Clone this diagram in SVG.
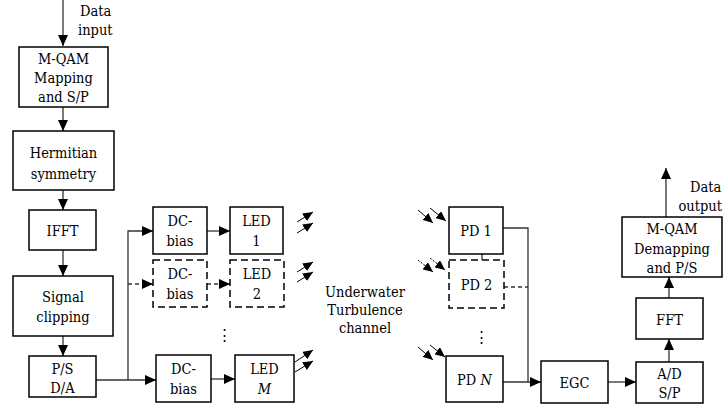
<svg xmlns="http://www.w3.org/2000/svg" width="724" height="410" viewBox="0 0 724 410">
<style>
  .box{fill:#fff;stroke:#000;stroke-width:1.5}
  .dbox{fill:#fff;stroke:#000;stroke-width:1.5;stroke-dasharray:7,4}
  .t{text-anchor:middle}
  .c{fill:none;stroke:#333;stroke-width:1.3}
  .cd{fill:none;stroke:#333;stroke-width:1.3;stroke-dasharray:4,3}
  .ray{fill:none;stroke:#000;stroke-width:1}
  .rayd{fill:none;stroke:#000;stroke-width:1;stroke-dasharray:2,1.5}
</style>
<defs>
  <marker id="ah" markerUnits="userSpaceOnUse" markerWidth="12" markerHeight="10" refX="11" refY="5" orient="auto">
    <path d="M0,0 L11,5 L0,10 z" fill="#000"/>
  </marker>
  <marker id="sh" markerUnits="userSpaceOnUse" markerWidth="10" markerHeight="9" refX="10" refY="4.5" orient="auto">
    <path d="M0,0 L10,4.5 L0,9 z" fill="#000"/>
  </marker>
</defs>
<rect width="724" height="410" fill="#fff"/>

<g id="connectors">
  <path class="c" d="M63,0 V46" marker-end="url(#ah)"/>
  <path class="c" d="M63,107 V131" marker-end="url(#ah)"/>
  <path class="c" d="M63,190 V210" marker-end="url(#ah)"/>
  <path class="c" d="M63,250 V276" marker-end="url(#ah)"/>
  <path class="c" d="M63,336 V356" marker-end="url(#ah)"/>
  <path class="c" d="M96,380 H156" marker-end="url(#ah)"/>
  <path class="c" d="M128,380 V231 H153" marker-end="url(#ah)"/>
  <path class="cd" d="M128,284 H153" marker-end="url(#ah)"/>
  <path class="c" d="M207,231 H230" marker-end="url(#ah)"/>
  <path class="cd" d="M207,284 H230" marker-end="url(#ah)"/>
  <path class="c" d="M211,379 H235" marker-end="url(#ah)"/>
  <path class="c" d="M503,228 H528 V382"/>
  <path class="cd" d="M504,287 H528"/>
  <path class="c" d="M482,254 V260"/>
  <path class="c" d="M503,382 H541" marker-end="url(#ah)"/>
  <path class="c" d="M608,382 H636" marker-end="url(#ah)"/>
  <path class="c" d="M669,362 V339" marker-end="url(#ah)"/>
  <path class="c" d="M669,298 V277" marker-end="url(#ah)"/>
  <path class="c" d="M666,217 V168" marker-end="url(#ah)"/>
  <path class="ray" d="M297,222 L313,212" marker-end="url(#sh)"/>
  <path class="ray" d="M297,233 L313,223" marker-end="url(#sh)"/>
  <path class="ray" d="M297,272 L313,262" marker-end="url(#sh)"/>
  <path class="ray" d="M297,282 L313,272" marker-end="url(#sh)"/>
  <path class="ray" d="M295,362 L313,350" marker-end="url(#sh)"/>
  <path class="ray" d="M295,372 L313,361" marker-end="url(#sh)"/>
  <path class="ray" d="M418,210 L433,223" marker-end="url(#sh)"/>
  <path class="ray" d="M430,208 L446,221" marker-end="url(#sh)"/>
  <path class="rayd" d="M418,260 L433,272" marker-end="url(#sh)"/>
  <path class="rayd" d="M430,258 L445,270" marker-end="url(#sh)"/>
  <path class="ray" d="M418,347 L433,360" marker-end="url(#sh)"/>
  <path class="ray" d="M430,345 L445,357" marker-end="url(#sh)"/>
</g>

<g font-family="DejaVu Serif Condensed, DejaVu Serif, serif" font-size="14.5" fill="#000">
<g id="data-input">
  <text x="80" y="16">Data</text>
  <text x="78" y="35">input</text>
</g>
<g id="mqam-map">
  <rect class="box" x="19" y="47" width="89" height="60"/>
  <text class="t" x="63.5" y="64">M-QAM</text>
  <text class="t" x="63.5" y="83">Mapping</text>
  <text class="t" x="63.5" y="102">and S/P</text>
</g>
<g id="hermitian">
  <rect class="box" x="13" y="131" width="101" height="59"/>
  <text class="t" x="63.5" y="158">Hermitian</text>
  <text class="t" x="63.5" y="179">symmetry</text>
</g>
<g id="ifft">
  <rect class="box" x="29" y="210" width="67" height="40"/>
  <text class="t" x="62.5" y="236">IFFT</text>
</g>
<g id="clipping">
  <rect class="box" x="13" y="276" width="100" height="60"/>
  <text class="t" x="63" y="302">Signal</text>
  <text class="t" x="63" y="322">clipping</text>
</g>
<g id="ps-da">
  <rect class="box" x="29" y="356" width="67" height="41"/>
  <text class="t" x="62.5" y="374">P/S</text>
  <text class="t" x="62.5" y="393">D/A</text>
</g>
<g id="dcbias1">
  <rect class="box" x="153" y="207" width="54" height="47"/>
  <text class="t" x="180" y="226">DC-</text>
  <text class="t" x="180" y="246">bias</text>
</g>
<g id="dcbias2">
  <rect class="dbox" x="153" y="260" width="54" height="47"/>
  <text class="t" x="180" y="279">DC-</text>
  <text class="t" x="180" y="299">bias</text>
</g>
<g id="dcbiasM">
  <rect class="box" x="156" y="355" width="55" height="47"/>
  <text class="t" x="183.5" y="374">DC-</text>
  <text class="t" x="183.5" y="394">bias</text>
</g>
<g id="led1">
  <rect class="box" x="230" y="207" width="53" height="47"/>
  <text class="t" x="256.5" y="226">LED</text>
  <text class="t" x="256.5" y="246">1</text>
</g>
<g id="led2">
  <rect class="dbox" x="230" y="260" width="54" height="47"/>
  <text class="t" x="257" y="279">LED</text>
  <text class="t" x="257" y="299">2</text>
</g>
<g id="ledM">
  <rect class="box" x="235" y="355" width="59" height="47"/>
  <text class="t" x="264.5" y="374">LED</text>
  <text class="t" x="264.5" y="394" font-style="italic">M</text>
</g>
<g id="tx-dots">
  <text class="t" x="224" y="340">⋮</text>
</g>
<g id="channel">
  <text class="t" x="365" y="297">Underwater</text>
  <text class="t" x="365" y="315">Turbulence</text>
  <text class="t" x="365" y="333">channel</text>
</g>
<g id="pd1">
  <rect class="box" x="449" y="207" width="54" height="47"/>
  <text class="t" x="476" y="236">PD 1</text>
</g>
<g id="pd2">
  <rect class="dbox" x="449" y="260" width="55" height="48"/>
  <text class="t" x="476.5" y="290">PD 2</text>
</g>
<g id="rx-dots">
  <text class="t" x="481" y="342">⋮</text>
</g>
<g id="pdN">
  <rect class="box" x="446" y="356" width="57" height="46"/>
  <text class="t" x="474.5" y="385">PD <tspan font-style="italic">N</tspan></text>
</g>
<g id="egc">
  <rect class="box" x="541" y="361" width="67" height="42"/>
  <text class="t" x="574.5" y="388">EGC</text>
</g>
<g id="ad-sp">
  <rect class="box" x="636" y="362" width="67" height="41"/>
  <text class="t" x="669.5" y="379">A/D</text>
  <text class="t" x="669.5" y="398">S/P</text>
</g>
<g id="fft">
  <rect class="box" x="636" y="298" width="67" height="41"/>
  <text class="t" x="669.5" y="325">FFT</text>
</g>
<g id="mqam-demap">
  <rect class="box" x="622" y="217" width="100" height="60"/>
  <text class="t" x="672" y="234">M-QAM</text>
  <text class="t" x="672" y="254">Demapping</text>
  <text class="t" x="672" y="273">and P/S</text>
</g>
<g id="data-output">
  <text x="690" y="192">Data</text>
  <text x="722" y="211" text-anchor="end">output</text>
</g>
</g>
</svg>
